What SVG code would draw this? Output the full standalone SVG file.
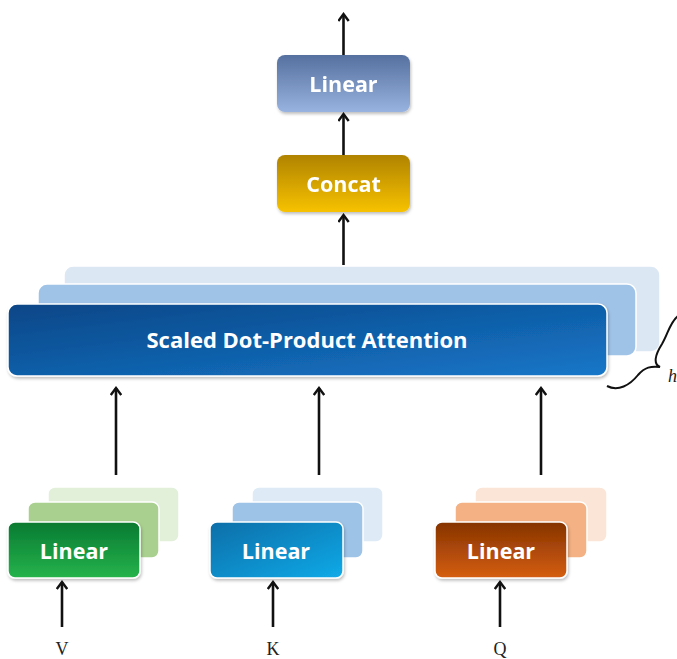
<svg xmlns="http://www.w3.org/2000/svg" width="677" height="659" viewBox="0 0 677 659">
<defs>
<style>
.lbl{font-family:"Open Sans","Liberation Sans",sans-serif;font-weight:bold;fill:#fff;text-anchor:middle;dominant-baseline:central}
.io{font-family:"Liberation Serif",serif;font-size:18px;fill:#222;text-anchor:middle}
.arr{stroke:#111;stroke-width:2.6;fill:none;marker-end:url(#ah)}
.lay{stroke:#fff;stroke-width:1.5}
</style>
<marker id="ah" viewBox="0 0 12 12" refX="10" refY="6" markerWidth="12" markerHeight="12" markerUnits="userSpaceOnUse" orient="auto">
<path d="M3,0.8 L10,6 L3,11.2" fill="none" stroke="#111" stroke-width="2.4" stroke-linejoin="miter"/>
</marker>
<filter id="sh" x="-10%" y="-10%" width="120%" height="130%"><feDropShadow dx="1" dy="2" stdDeviation="1.5" flood-color="#000" flood-opacity="0.25"/></filter>
<linearGradient id="gLin" x1="0" y1="0" x2="0" y2="1"><stop offset="0" stop-color="#56709f"/><stop offset="1" stop-color="#98b3df"/></linearGradient>
<linearGradient id="gCat" x1="0" y1="0" x2="0" y2="1"><stop offset="0" stop-color="#b08300"/><stop offset="1" stop-color="#f7c200"/></linearGradient>
<linearGradient id="gAtt" x1="0" y1="0" x2="1" y2="1"><stop offset="0" stop-color="#0a4687"/><stop offset="1" stop-color="#1677c9"/></linearGradient>
<linearGradient id="gV" x1="0" y1="0" x2="0" y2="1"><stop offset="0" stop-color="#087a32"/><stop offset="1" stop-color="#26b34c"/></linearGradient>
<linearGradient id="gK" x1="0" y1="0" x2="1" y2="1"><stop offset="0" stop-color="#0a6ea8"/><stop offset="1" stop-color="#12aae8"/></linearGradient>
<linearGradient id="gQ" x1="0" y1="0" x2="0" y2="1"><stop offset="0" stop-color="#853300"/><stop offset="1" stop-color="#d55e12"/></linearGradient>
</defs>

<g id="linear-top" filter="url(#sh)">
<rect x="277" y="55" width="133" height="57" rx="8" fill="url(#gLin)"/>
<text class="lbl" x="343.5" y="83" font-size="21.5">Linear</text>
</g>

<g id="concat" filter="url(#sh)">
<rect x="277" y="155" width="133" height="57" rx="8" fill="url(#gCat)"/>
<text class="lbl" x="343.5" y="183" font-size="21.5">Concat</text>
</g>

<g id="attention">
<rect class="lay" x="64" y="266" width="596" height="86" rx="9" fill="#dce7f4"/>
<rect class="lay" x="38" y="284" width="598" height="72" rx="9" fill="#9fc3e7"/>
<rect class="lay" x="8" y="304" width="599" height="72" rx="9" fill="url(#gAtt)" filter="url(#sh)"/>
<text class="lbl" x="307" y="339" font-size="22">Scaled Dot-Product Attention</text>
</g>

<g id="brace">
<path d="M607,386 C618,392 630,385 638,375 C645,367 651,366 660,367 C653,364 655,355 662,344 C668,334 670,322 678,316" fill="none" stroke="#111" stroke-width="2"/>
<text x="668" y="382" font-family="Liberation Serif,serif" font-style="italic" font-size="18" fill="#222">h</text>
</g>

<g id="linear-v">
<rect class="lay" x="48" y="487" width="131" height="55" rx="7" fill="#e2efd9"/>
<rect class="lay" x="28" y="502" width="131" height="56" rx="7" fill="#a9d08e"/>
<rect class="lay" x="8" y="522" width="132" height="56" rx="7" fill="url(#gV)" filter="url(#sh)"/>
<text class="lbl" x="74" y="550" font-size="21.5">Linear</text>
</g>

<g id="linear-k">
<rect class="lay" x="252" y="487" width="131" height="55" rx="7" fill="#deeaf6"/>
<rect class="lay" x="232" y="502" width="131" height="56" rx="7" fill="#9dc3e6"/>
<rect class="lay" x="210" y="522" width="133" height="56" rx="7" fill="url(#gK)" filter="url(#sh)"/>
<text class="lbl" x="276" y="550" font-size="21.5">Linear</text>
</g>

<g id="linear-q">
<rect class="lay" x="475" y="487" width="132" height="55" rx="7" fill="#fbe5d6"/>
<rect class="lay" x="455" y="502" width="132" height="56" rx="7" fill="#f4b183"/>
<rect class="lay" x="435" y="522" width="132" height="56" rx="7" fill="url(#gQ)" filter="url(#sh)"/>
<text class="lbl" x="501" y="550" font-size="21.5">Linear</text>
</g>

<g id="inputs">
<text class="io" x="62" y="655">V</text>
<text class="io" x="273" y="655">K</text>
<text class="io" x="500" y="655">Q</text>
</g>

<g id="connectors">
<line class="arr" x1="343.5" y1="55" x2="343.5" y2="14"/>
<line class="arr" x1="343.5" y1="155" x2="343.5" y2="114"/>
<line class="arr" x1="343.5" y1="265" x2="343.5" y2="215"/>
<line class="arr" x1="116" y1="475" x2="116" y2="388"/>
<line class="arr" x1="319" y1="475" x2="319" y2="388"/>
<line class="arr" x1="541" y1="475" x2="541" y2="388"/>
<line class="arr" x1="62" y1="627" x2="62" y2="582"/>
<line class="arr" x1="273" y1="627" x2="273" y2="582"/>
<line class="arr" x1="500" y1="627" x2="500" y2="582"/>
</g>
</svg>
